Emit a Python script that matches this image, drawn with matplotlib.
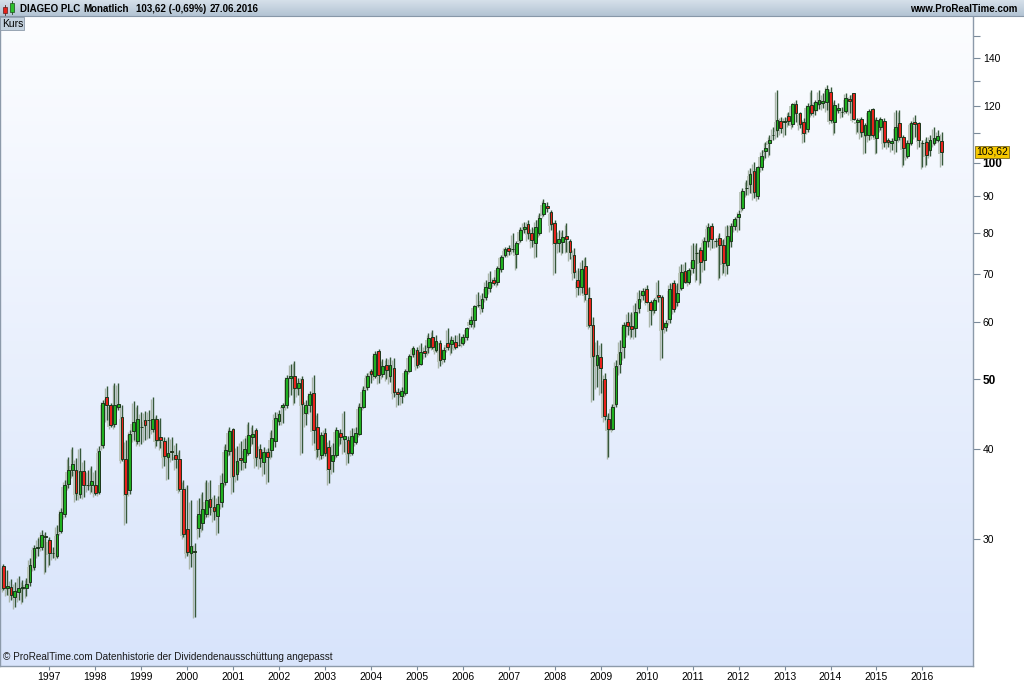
import matplotlib
matplotlib.use("Agg")
import matplotlib.pyplot as plt
import matplotlib.transforms as mtransforms
from matplotlib.patches import Rectangle
from matplotlib.ticker import NullFormatter
import numpy as np
import pandas as pd

plt.rcParams["font.family"] = ["Liberation Sans", "DejaVu Sans"]

# monthly candles, Jan 1996 - Jun 2016 (one year per row)
opens = [
    27.5, 25.6, 25.7, 24.9, 25.3, 25.6, 25.6, 26.1, 27.4, 29.1, 29.2, 30.3,
    29.9, 28.7, 28.4, 30.8, 32.5, 35.8, 37.4, 37.4, 34.6, 37.3, 35.6, 35.6,
    35.6, 34.9, 40.5, 47.2, 46.1, 43.3, 45.8, 44.3, 38.7, 35.1, 42.4, 41.1,
    43.0, 43.9, 43.9, 42.6, 44.0, 41.6, 41.1, 39.0, 39.8, 39.2, 38.7, 35.2,
    31.0, 28.7, 28.9, 31.1, 31.6, 32.5, 34.1, 33.2, 32.3, 33.8, 36.0, 39.7,
    42.6, 36.9, 38.9, 38.4, 39.5, 41.6, 42.5, 40.0, 38.4, 39.6, 39.9, 41.1,
    43.8, 45.8, 46.1, 50.3, 50.6, 48.6, 50.0, 44.9, 46.1, 47.8, 42.9, 39.3,
    42.1, 40.3, 38.5, 39.3, 42.1, 41.3, 41.2, 39.5, 40.9, 42.0, 45.7, 48.8,
    51.3, 50.6, 54.7, 50.9, 52.3, 50.6, 51.8, 48.0, 47.4, 47.8, 51.4, 54.2,
    55.0, 52.5, 54.8, 55.4, 57.3, 54.9, 56.2, 53.3, 56.1, 56.0, 56.3, 55.8,
    56.1, 57.2, 59.7, 60.5, 63.5, 62.8, 65.1, 67.0, 68.8, 68.2, 71.2, 74.5,
    76.1, 76.0, 74.7, 78.1, 80.9, 82.2, 80.0, 77.3, 80.0, 84.9, 87.2, 85.5,
    82.4, 77.4, 77.7, 79.1, 77.8, 74.5, 68.8, 67.2, 71.8, 64.8, 59.5, 52.3,
    53.8, 50.0, 44.0, 42.7, 46.2, 52.6, 55.5, 60.1, 59.4, 58.9, 62.9, 65.5,
    66.8, 64.1, 62.4, 65.5, 65.1, 59.1, 60.6, 68.0, 64.0, 67.0, 70.8, 68.2,
    71.4, 74.9, 75.7, 73.3, 77.8, 81.7, 77.8, 78.7, 77.0, 72.1, 77.8, 81.8,
    84.2, 86.5, 92.2, 93.4, 97.5, 90.1, 98.6, 103.9, 106.7, 109.4, 111.1, 114.4,
    114.1, 116.3, 113.3, 120.7, 117.3, 114.1, 111.4, 120.4, 118.5, 120.7, 121.1, 121.7,
    125.6, 113.9, 118.5, 117.9, 118.2, 122.7, 125.0, 113.9, 115.0, 109.4, 109.4, 118.7,
    108.2, 112.1, 114.4, 107.6, 106.5, 107.6, 113.5, 108.8, 102.1, 106.5, 113.9, 113.7,
    106.7, 107.0, 104.2, 106.5, 107.8, 107.3,
]
highs = [
    27.7, 27.2, 26.4, 26.1, 26.6, 26.3, 26.5, 28.2, 29.4, 30.1, 30.9, 30.7,
    30.2, 29.2, 31.4, 33.1, 36.2, 39.0, 40.3, 38.9, 40.2, 38.6, 37.4, 37.9,
    37.4, 40.4, 46.8, 48.9, 46.4, 49.4, 49.4, 46.1, 41.2, 42.5, 46.6, 46.1,
    45.0, 45.2, 45.3, 47.2, 44.6, 44.2, 41.6, 41.6, 41.6, 40.8, 39.9, 36.2,
    35.6, 34.0, 29.6, 34.2, 34.9, 36.2, 36.2, 34.5, 34.4, 37.0, 40.6, 42.9,
    42.8, 40.4, 41.0, 41.5, 43.6, 43.2, 42.8, 40.6, 40.3, 40.2, 42.5, 45.0,
    45.3, 46.4, 50.7, 52.6, 53.1, 50.2, 50.6, 46.8, 48.2, 50.7, 44.9, 42.3,
    42.8, 41.2, 40.8, 42.9, 42.6, 45.2, 41.7, 42.8, 43.0, 46.4, 48.9, 51.0,
    51.7, 54.8, 55.1, 53.4, 53.5, 53.7, 53.5, 48.6, 48.8, 51.7, 54.2, 55.6,
    55.5, 56.2, 55.8, 58.0, 58.5, 57.6, 56.7, 55.5, 58.9, 57.4, 57.6, 58.0,
    57.8, 59.2, 61.3, 63.5, 66.2, 66.0, 68.8, 70.8, 69.5, 71.9, 74.5, 76.5,
    76.9, 80.0, 77.8, 81.5, 82.9, 83.3, 81.5, 83.3, 85.2, 89.1, 88.3, 86.0,
    83.3, 80.7, 80.7, 82.4, 78.3, 76.1, 71.4, 73.3, 74.1, 67.3, 61.1, 56.7,
    56.1, 51.0, 44.9, 46.2, 53.2, 56.7, 60.1, 62.1, 62.1, 63.8, 66.6, 67.0,
    67.7, 64.5, 64.9, 68.8, 65.5, 60.5, 68.0, 68.8, 68.0, 72.4, 72.9, 71.5,
    77.3, 77.3, 76.5, 78.9, 82.4, 82.4, 78.6, 79.8, 78.5, 82.1, 82.4, 84.2,
    86.0, 92.2, 94.7, 98.3, 100.4, 99.0, 104.2, 107.1, 109.4, 112.3, 126.3, 116.0,
    116.0, 117.9, 121.3, 122.4, 117.9, 115.4, 121.1, 126.3, 122.4, 126.3, 125.0, 128.3,
    127.6, 122.4, 121.1, 119.8, 125.3, 124.3, 125.3, 115.4, 116.0, 113.5, 118.7, 119.1,
    116.0, 116.0, 115.4, 108.2, 108.2, 118.5, 118.5, 109.4, 107.6, 114.5, 116.6, 114.1,
    107.6, 108.8, 109.4, 112.3, 111.1, 110.5,
]
lows = [
    25.5, 25.1, 24.7, 24.1, 24.7, 24.5, 25.0, 25.8, 27.2, 28.4, 29.0, 27.0,
    27.6, 28.2, 28.2, 30.6, 32.2, 35.3, 36.7, 34.0, 34.2, 34.3, 35.1, 34.9,
    34.5, 34.6, 40.1, 43.9, 42.9, 42.9, 45.3, 38.5, 31.6, 34.6, 41.2, 40.6,
    40.6, 41.2, 41.5, 42.2, 40.4, 40.1, 37.9, 36.4, 38.6, 37.6, 35.0, 30.2,
    28.4, 27.4, 23.4, 30.2, 30.9, 32.2, 32.4, 31.9, 30.6, 33.2, 35.6, 39.3,
    34.9, 36.2, 37.4, 37.6, 39.3, 40.6, 37.9, 37.8, 36.9, 36.0, 39.0, 40.3,
    43.2, 43.5, 45.6, 47.6, 46.4, 47.6, 39.5, 43.2, 45.0, 40.8, 39.0, 38.8,
    39.1, 35.9, 37.2, 39.0, 40.6, 39.6, 38.3, 39.3, 40.6, 41.8, 45.6, 48.3,
    49.4, 50.2, 49.5, 50.4, 50.1, 49.6, 47.3, 46.1, 46.3, 47.6, 51.2, 53.7,
    51.9, 52.3, 53.7, 54.4, 55.2, 54.6, 52.2, 52.9, 54.9, 54.4, 55.2, 55.6,
    55.8, 56.7, 59.2, 59.2, 63.1, 62.1, 64.5, 66.2, 67.7, 67.7, 70.6, 73.9,
    74.5, 75.2, 71.4, 77.7, 79.8, 78.3, 76.5, 74.1, 79.4, 84.4, 85.5, 80.7,
    70.3, 75.3, 75.0, 75.3, 73.5, 69.2, 65.5, 65.9, 64.5, 59.2, 46.8, 48.8,
    47.8, 43.9, 39.0, 42.5, 45.8, 51.0, 53.5, 57.6, 57.3, 57.3, 61.8, 64.5,
    63.8, 59.5, 61.8, 64.1, 53.5, 58.3, 59.9, 62.1, 63.2, 66.6, 68.0, 67.9,
    70.3, 68.8, 68.1, 71.0, 76.5, 76.1, 76.5, 69.2, 70.3, 70.1, 76.5, 80.7,
    80.7, 86.0, 90.2, 90.7, 89.3, 89.0, 97.8, 101.5, 102.6, 107.6, 108.8, 110.0,
    109.4, 112.9, 112.3, 114.1, 111.7, 107.1, 110.5, 116.6, 116.6, 118.7, 119.1, 118.5,
    114.1, 110.0, 117.3, 116.0, 117.5, 117.3, 114.8, 110.5, 108.8, 103.4, 107.6, 108.8,
    103.4, 111.1, 105.3, 105.3, 104.2, 103.6, 107.6, 99.4, 101.5, 105.9, 108.8, 105.3,
    98.8, 99.4, 102.1, 105.9, 107.1, 99.4,
]
closes = [
    25.6, 25.8, 25.1, 25.4, 25.6, 25.7, 26.0, 27.6, 29.1, 29.2, 30.4, 30.2,
    28.7, 28.7, 30.5, 32.7, 35.6, 37.4, 38.1, 34.7, 37.3, 35.6, 35.6, 36.1,
    34.8, 39.7, 46.3, 46.0, 43.2, 46.1, 46.2, 38.7, 34.6, 42.0, 43.6, 44.1,
    43.0, 43.2, 43.9, 44.1, 41.2, 41.2, 39.1, 39.5, 39.6, 38.8, 35.2, 30.5,
    28.8, 29.3, 28.8, 32.5, 33.0, 34.0, 33.2, 32.8, 33.6, 35.9, 39.9, 42.4,
    36.7, 38.5, 38.6, 40.0, 41.9, 42.0, 39.0, 38.9, 39.6, 39.0, 41.4, 44.2,
    44.7, 46.1, 50.2, 50.5, 48.6, 49.4, 46.2, 46.1, 47.7, 42.5, 40.0, 41.8,
    39.5, 37.5, 39.3, 42.5, 41.6, 41.7, 39.5, 41.7, 42.1, 45.7, 48.3, 50.5,
    50.8, 54.2, 50.7, 52.2, 51.6, 52.3, 48.0, 47.7, 48.2, 51.4, 53.9, 55.3,
    52.3, 54.6, 54.4, 57.0, 55.5, 56.6, 53.2, 55.0, 55.5, 56.7, 55.5, 55.8,
    57.3, 58.9, 60.5, 63.3, 63.5, 64.6, 67.2, 68.4, 68.1, 71.4, 74.1, 75.9,
    75.4, 76.0, 77.4, 80.7, 81.5, 79.8, 78.1, 81.5, 83.8, 87.9, 86.7, 82.2,
    77.3, 78.5, 78.8, 78.3, 75.3, 70.6, 67.2, 71.2, 65.7, 59.5, 53.9, 54.0,
    51.9, 44.4, 42.7, 45.7, 52.2, 54.6, 59.5, 59.4, 58.8, 62.1, 64.7, 66.4,
    64.1, 62.4, 64.5, 65.1, 58.7, 59.9, 66.7, 62.6, 65.9, 70.6, 68.4, 71.0,
    73.3, 74.9, 72.9, 77.8, 81.5, 78.3, 77.8, 76.9, 72.5, 79.1, 81.8, 83.6,
    84.9, 91.5, 92.3, 96.5, 91.2, 98.6, 102.4, 104.8, 107.8, 109.4, 114.8, 111.7,
    114.5, 114.5, 120.7, 117.3, 113.3, 110.0, 120.1, 117.5, 121.5, 122.4, 122.1, 126.6,
    114.8, 120.3, 119.1, 117.9, 123.2, 121.9, 115.2, 114.8, 110.5, 112.9, 118.1, 109.4,
    114.8, 115.2, 107.0, 107.0, 107.3, 112.3, 108.8, 105.0, 106.5, 113.5, 113.2, 107.6,
    106.7, 102.6, 107.8, 108.2, 109.0, 103.62,
]

y_ticks = [30, 40, 50, 60, 70, 80, 90, 100, 120, 140]
y_minor = [110, 130, 150]
bold_ticks = [50, 100]
last_price = 103.62

months = pd.date_range("1996-01-01", periods=len(closes), freq="MS")
x = np.arange(len(months))
o = np.array(opens)
h = np.array(highs)
l = np.array(lows)
c = np.array(closes)

W, H = 1024, 683
fig = plt.figure(figsize=(W / 100, H / 100), dpi=100)
fig.patch.set_facecolor("white")

rect = [0, 17 / H, 973 / W, 650 / H]

# background gradient behind the plot
bg = fig.add_axes(rect, zorder=0)
grad = np.linspace(0, 1, 256).reshape(-1, 1)
top_c = np.array([252, 253, 255]) / 255
bot_c = np.array([216, 228, 251]) / 255
img = top_c + (bot_c - top_c) * grad[:, :, None]
bg.imshow(img, aspect="auto", extent=(0, 1, 0, 1), interpolation="bicubic")
bg.set_axis_off()

ax = fig.add_axes(rect, zorder=1)
ax.patch.set_alpha(0)
ax.set_yscale("log")

up = c >= o
body_col = np.where(up, "#1fb01f", "#e8221c")
bottom = np.minimum(o, c)
height = np.abs(c - o)

# soft shadow left of every candle
ax.vlines(x - 0.45, l * 0.994, h * 0.994, color="#aab6aa", lw=1.0, zorder=2)
ax.bar(x - 0.45, height, bottom=bottom * 0.994, width=0.72, color="#bcc6bc",
       linewidth=0, zorder=2)

ax.vlines(x, l, h, color="#36583a", lw=1.0, zorder=3)
ax.bar(x, height, bottom=bottom, width=0.72, color=body_col,
       edgecolor="#1c361c", linewidth=0.7, zorder=4)

ax.set_xlim(-0.86, 253.2)
ax.set_ylim(19.97, 160.1)

# x axis: years (first label is 1997)
jan = np.where((months.month == 1) & (months.year > 1996))[0]
ax.set_xticks(x[jan])
ax.set_xticklabels([str(months[i].year) for i in jan])
ax.tick_params(axis="x", direction="out", length=3, width=0.8, color="#7a8a9a",
               labelsize=7.5, pad=1)

# y axis on the right
ax.yaxis.tick_right()
ax.set_yticks(y_ticks)
ax.set_yticklabels([str(v) for v in y_ticks])
ax.set_yticks(y_minor, minor=True)
ax.yaxis.set_minor_formatter(NullFormatter())
ax.tick_params(axis="y", which="both", direction="out", length=5, width=0.8,
               color="#7a8a9a", labelsize=7.5, pad=2)
for lab, v in zip(ax.get_yticklabels(), y_ticks):
    if v in bold_ticks:
        lab.set_fontweight("bold")
        lab.set_fontsize(8.5)

for side in ["left", "right", "bottom"]:
    ax.spines[side].set_color("#8c9aaa")
    ax.spines[side].set_linewidth(1.0)
ax.spines["top"].set_visible(False)

# last price tag
trans = mtransforms.blended_transform_factory(ax.transAxes, ax.transData)
ax.text(1.003, last_price, "103,62", transform=trans, va="center", ha="left",
        fontsize=7.5, color="black", zorder=6, clip_on=False,
        bbox=dict(boxstyle="square,pad=0.12", fc="#f6c800", ec="#7a6a20", lw=0.6))

ax.text(0.003, 0.006, "\u00a9 ProRealTime.com Datenhistorie der Dividendenaussch\u00fcttung angepasst",
        transform=ax.transAxes, fontsize=7.2, color="#1a1a1a", va="bottom", ha="left")

# overlay in pixel coordinates for header bar and labels
ov = fig.add_axes([0, 0, 1, 1], zorder=5)
ov.set_xlim(0, W)
ov.set_ylim(H, 0)
ov.set_axis_off()
ov.patch.set_alpha(0)

hgrad = np.linspace(0, 1, 64).reshape(-1, 1)
h_top = np.array([214, 224, 234]) / 255
h_bot = np.array([178, 195, 211]) / 255
himg = h_top + (h_bot - h_top) * hgrad[:, :, None]
ov.imshow(himg, aspect="auto", extent=(0, W, 16, 0), interpolation="bicubic", zorder=1)
ov.plot([0, W], [16, 16], color="#8797a8", lw=0.8, zorder=2)

# small candle icon
ov.add_patch(Rectangle((3, 7), 4, 6, fc="#e8221c", ec="#5a2020", lw=0.5, zorder=3))
ov.plot([5, 5], [5, 15], color="#5a2020", lw=0.6, zorder=2)
ov.add_patch(Rectangle((10, 3), 4, 9, fc="#2cc02c", ec="#1c4a1c", lw=0.5, zorder=3))
ov.plot([12, 12], [1, 14], color="#1c4a1c", lw=0.6, zorder=2)

head = dict(fontsize=7, fontweight="bold", color="black", va="center", ha="left", zorder=4)
ov.text(20, 8.5, "DIAGEO PLC", **head)
ov.text(83, 8.5, "Monatlich", **head)
ov.text(136, 8.5, "103,62 (-0,69%)", **head)
ov.text(210, 8.5, "27.06.2016", **head)
ov.text(1017, 8.5, "www.ProRealTime.com", fontsize=7, fontweight="bold",
        color="black", va="center", ha="right", zorder=4)

ov.add_patch(Rectangle((0, 17), 24, 13, fc="#c3d1de", ec="#8c9aaa", lw=0.6, zorder=3))
ov.text(2.5, 23.8, "Kurs", fontsize=7.5, color="black", va="center", ha="left", zorder=4)

fig.savefig("out.png", dpi=100)
